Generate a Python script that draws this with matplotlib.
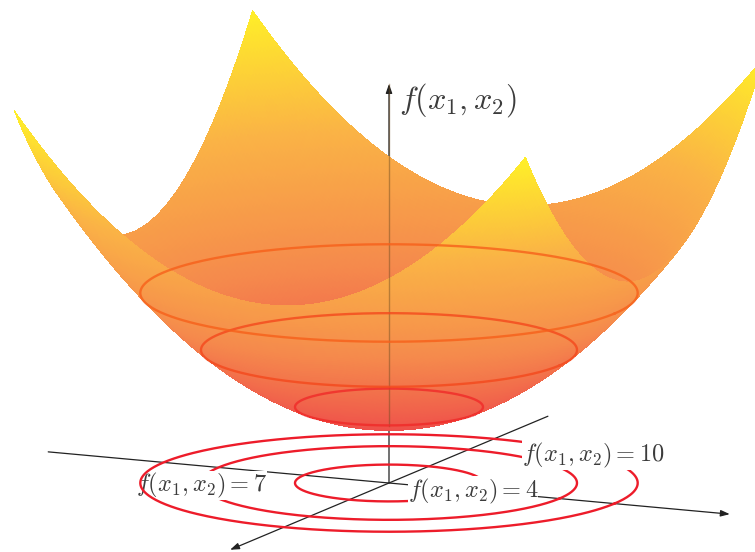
#!/usr/bin/env python3
import numpy as np
import matplotlib
matplotlib.use('Agg')
import matplotlib.pyplot as plt
from matplotlib.colors import LinearSegmentedColormap
from mpl_toolkits.mplot3d import proj3d

# f(x1, x2) = 3 + x1^2 + x2^2
offset = 3
levels = [4, 7, 10]
surface_range = [-3, 3]
axis_range = [-4, 4]
z_top = 21
axis_label = r'$f(x_1,x_2)$'
level_labels = [r'$f(x_1,x_2)=4$', r'$f(x_1,x_2)=7$', r'$f(x_1,x_2)=10$']

plt.rcParams['mathtext.fontset'] = 'cm'

W, H = 755, 552
ELEV, AZIM = 11.3, -65
PX_PER_Z = 19.0
ORIGIN = (389, 483)

fig = plt.figure(figsize=(W / 100, H / 100), dpi=100)
ax = fig.add_axes([0, 0, 1, 1], projection='3d', proj_type='ortho', computed_zorder=False)
ax.view_init(elev=ELEV, azim=AZIM)
ax.set_xlim(axis_range)
ax.set_ylim(axis_range)
ax.set_zlim(0, z_top)
# one x unit is 94 px across, one f unit is 19 px up
ax.set_box_aspect((8, 8, z_top * PX_PER_Z / np.cos(np.radians(ELEV)) / 94))
ax.set_axis_off()
ax.patch.set_visible(False)


def project(x, y, z):
    X, Y, _ = proj3d.proj_transform(x, y, z, ax.get_proj())
    return X, Y


def to_px(x, y, z):
    return ax.transData.transform(project(x, y, z))


# place the square axes so the origin and the scale land where they should
S = 1.0 * H
ax.set_position([0, 0, S / W, S / H])
per_z = to_px(0, 0, 1)[1] - to_px(0, 0, 0)[1]
S = S * PX_PER_Z / per_z
ax.set_position([0, 0, S / W, S / H])
ox, oy = to_px(0, 0, 0)
ax.set_position([(ORIGIN[0] - ox) / W, ((H - ORIGIN[1]) - oy) / H, S / W, S / H])

# axes
line_kw = dict(arrowstyle='-|>,head_length=0.45,head_width=0.16', color='#222222', lw=0.9,
               shrinkA=0, shrinkB=0, mutation_scale=12)
ends = [((axis_range[0], 0, 0), (axis_range[1], 0, 0)),
        ((0, axis_range[1], 0), (0, axis_range[0], 0)),
        ((0, 0, 0), (0, 0, z_top))]
for start, end in ends:
    ax.annotate('', xy=project(*end), xytext=project(*start), arrowprops=line_kw,
                annotation_clip=False, zorder=1)

# ground contours and their labels, each white label box cuts only what is under it
theta = np.linspace(0, 2 * np.pi, 400)
contour_red = '#ed1c2a'
ground_z = {4: 2, 7: 4, 10: 6}
for lev in levels:
    r = np.sqrt(lev - offset)
    ax.plot(r * np.cos(theta), r * np.sin(theta), 0 * theta, color=contour_red, lw=1.7,
            zorder=ground_z[lev])

label_pos = [(473, 491, 3), (201.5, 485.5, 5), (593, 455, 7)]
for s, (px, py, zo) in zip(level_labels, label_pos):
    ax.text2D(px / W, 1 - py / H, s, transform=fig.transFigure, fontsize=17.5, color='#3c3c3c',
              ha='center', va='center', zorder=zo,
              bbox=dict(facecolor='white', edgecolor='none', pad=0))

ax.text2D(399 / W, 1 - 100 / H, axis_label, transform=fig.transFigure, fontsize=23.2,
          color='#3c3c3c', ha='left', va='center', zorder=8)

# surface
cmap = LinearSegmentedColormap.from_list('heat', ['#ee4a4a', '#f58a4c', '#fab246', '#ffef28'],
                                         N=256)
grid = np.linspace(surface_range[0], surface_range[1], 221)
X1, X2 = np.meshgrid(grid, grid)
F = offset + X1 ** 2 + X2 ** 2
ax.plot_surface(X1, X2, F, rstride=1, cstride=1, cmap=cmap, vmin=offset, vmax=z_top, shade=False,
                linewidth=0, antialiased=False, zorder=10)

# axis and contours show faintly through the surface
ax.plot([0, 0], [0, 0], [offset, z_top], color='#6a4a20', lw=1.0, alpha=0.45, zorder=11)
surface_line = {4: '#f02a28', 7: '#f4481c', 10: '#f7601a'}
for lev in levels:
    r = np.sqrt(lev - offset)
    ax.plot(r * np.cos(theta), r * np.sin(theta), lev + 0 * theta, color=surface_line[lev], lw=1.7,
            alpha=0.8, zorder=11)

fig.savefig('out.png', dpi=100)
